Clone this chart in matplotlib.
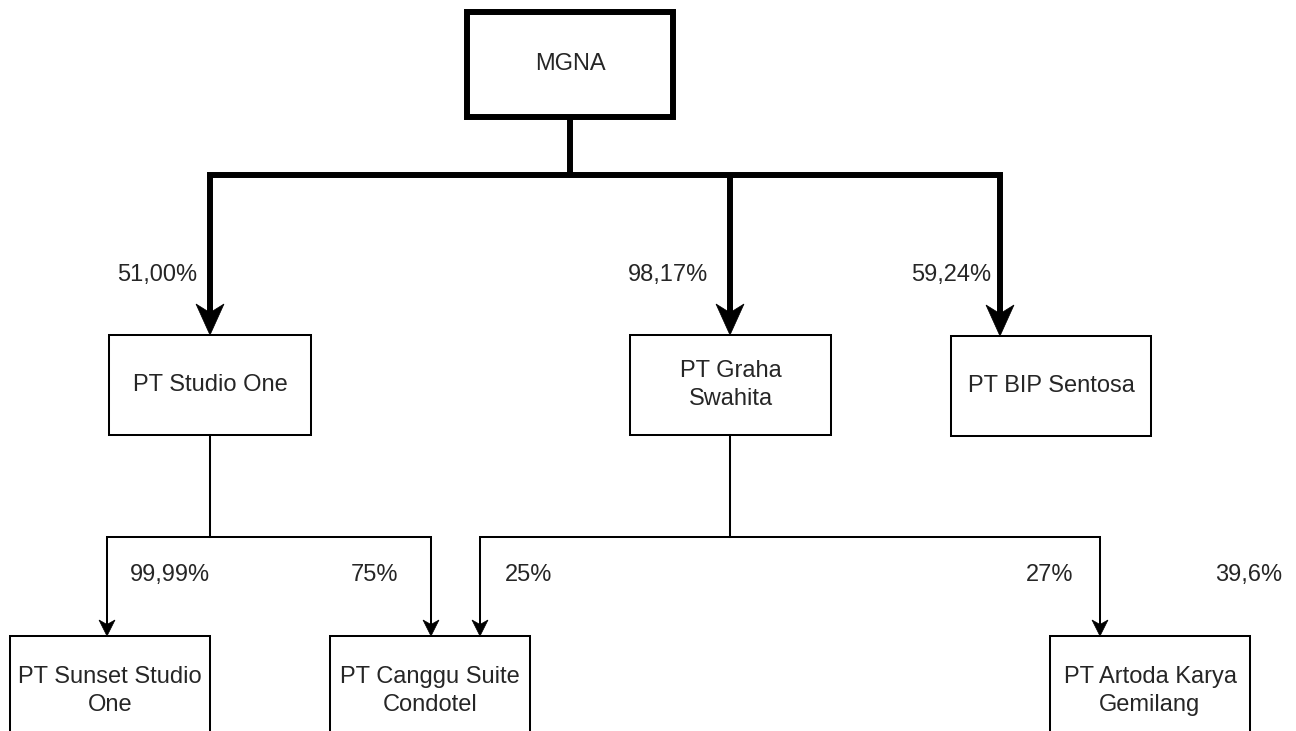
"""
plot.py - struktur kepemilikan MGNA (diagram organisasi)
"""
import matplotlib
matplotlib.use("Agg")
import matplotlib.pyplot as plt
from matplotlib.patches import Rectangle, Polygon

# ============ data ============
parent_name = "MGNA"
level1_names = ["PT Studio One", "PT Graha\nSwahita", "PT BIP Sentosa"]
level1_stakes = ["51,00%", "98,17%", "59,24%"]
level2_names = ["PT Sunset Studio\nOne", "PT Canggu Suite\nCondotel", "PT Artoda Karya\nGemilang"]
# (owner index in level1, target index in level2, stake)
level2_links = [(0, 0, "99,99%"), (0, 1, "75%"), (1, 1, "25%"), (1, 2, "27%")]
extra_stake = "39,6%"

# ============ layout (pixel coords) ============
W, H = 1296, 731
FONT = 17
TXT = "#262626"
THICK = 4.3
THIN = 1.45

parent_box = (467, 12, 206, 105)           # x, y, w, h
level1_boxes = [(109, 335, 202, 100), (630, 335, 201, 100), (951, 336, 200, 100)]
level1_x = [210, 730, 1000]
bus1_y = 175
level1_label_xy = [(197, 275), (708, 275), (991, 275)]

level2_boxes = [(10, 636, 200, 110), (330, 636, 200, 110), (1050, 636, 200, 110)]
bus2_y = 537
link_x = [107, 431, 480, 1100]
link_label = [(130, 575, "left"), (398, 575, "right"), (505, 575, "left"), (1073, 575, "right")]
extra_label_xy = (1282, 575)

fig = plt.figure(figsize=(W / 100, H / 100), dpi=100)
ax = fig.add_axes([0, 0, 1, 1])
ax.set_xlim(0, W)
ax.set_ylim(H, 0)
ax.axis("off")

plt.rcParams["font.family"] = ["Liberation Sans", "DejaVu Sans"]


def box(x, y, w, h, label, lw, ls=1.35):
    ax.add_patch(Rectangle((x, y), w, h, facecolor="white", edgecolor="black",
                           linewidth=lw, zorder=2))
    ax.text(x + w / 2, y + h / 2, label, ha="center", va="center",
            fontsize=FONT, color=TXT, linespacing=ls, zorder=3)


def arrow_head(x, tip_y, w, h):
    pts = [(x, tip_y), (x - w / 2, tip_y - h), (x, tip_y - h * 0.72), (x + w / 2, tip_y - h)]
    ax.add_patch(Polygon(pts, closed=True, facecolor="black", edgecolor="black",
                         linewidth=0.5, zorder=4))
    return tip_y - h * 0.72


# ---- level 0 ----
px, py, pw, ph = parent_box
box(px, py, pw, ph, parent_name, THICK)
cx = px + pw / 2
ax.plot([cx, cx], [py + ph, bus1_y], color="black", lw=THICK, solid_capstyle="butt")
ax.plot([level1_x[0], level1_x[-1]], [bus1_y, bus1_y], color="black", lw=THICK,
        solid_joinstyle="miter", solid_capstyle="projecting")

# ---- level 1 ----
for (bx, by, bw, bh), name, stake, xx, (lx, ly) in zip(level1_boxes, level1_names, level1_stakes,
                                                      level1_x, level1_label_xy):
    box(bx, by, bw, bh, name, THIN)
    end = arrow_head(xx, by, 28, 31)
    ax.plot([xx, xx], [bus1_y, end], color="black", lw=THICK, solid_capstyle="butt")
    ax.text(lx, ly, stake, ha="right", va="center", fontsize=FONT, color=TXT)

# ---- level 2 ----
for (bx, by, bw, bh), name in zip(level2_boxes, level2_names):
    box(bx, by, bw, bh, name, THIN, ls=1.4)

for i, (owner, target, stake) in enumerate(level2_links):
    ox = level1_x[owner]
    oy = level1_boxes[owner][1] + level1_boxes[owner][3]
    ax.plot([ox, ox], [oy, bus2_y], color="black", lw=THIN)
    xx = link_x[i]
    ty = level2_boxes[target][1]
    end = arrow_head(xx, ty, 16, 16)
    ax.plot([ox, xx, xx], [bus2_y, bus2_y, end], color="black", lw=THIN,
            solid_joinstyle="miter")
    lx, ly, ha = link_label[i]
    ax.text(lx, ly, stake, ha=ha, va="center", fontsize=FONT, color=TXT)

ax.text(extra_label_xy[0], extra_label_xy[1], extra_stake, ha="right", va="center",
        fontsize=FONT, color=TXT)

fig.savefig("out.png", dpi=100, facecolor="white")
